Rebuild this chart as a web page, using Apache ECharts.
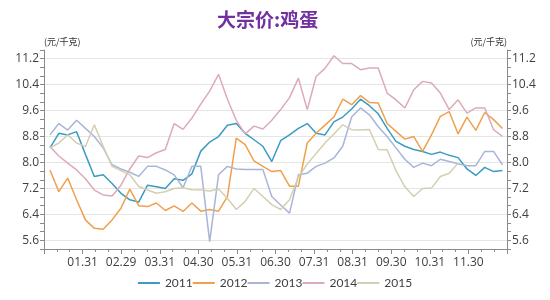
<!DOCTYPE html>
<html><head><meta charset="utf-8">
<script src="https://cdn.jsdelivr.net/npm/echarts@6/dist/echarts.min.js"></script>
<style>html,body{margin:0;padding:0;background:#fff}#c{width:550px;height:300px}</style>
</head><body><div id="c"></div>
<script>
const monthLabels = ['', '01.31', '02.29', '03.31', '04.30', '05.31', '06.30', '07.31', '08.31', '09.30', '10.31', '11.30', ''];
const yearNames = ['2011', '2012', '2013', '2014', '2015'];
const lineColors = ['#3a9cc2', '#f0a04c', '#a9b5d8', '#dcaab9', '#d3cfb3'];
const yTickLabels = [5.6, 6.4, 7.2, 8.0, 8.8, 9.6, 10.4, 11.2];

const s2011 = [8.45, 8.9, 8.85, 8.95, 8.25, 7.57, 7.62, 7.35, 7.05, 6.85,
  6.78, 7.3, 7.25, 7.2, 7.5, 7.45, 7.65, 8.35, 8.63, 8.8,
  9.15, 9.2, 8.9, 8.7, 8.5, 8.03, 8.67, 8.85, 9.05, 9.2,
  8.9, 8.85, 9.25, 9.4, 9.65, 9.95, 9.75, 9.5, 9.05, 8.65,
  8.5, 8.4, 8.34, 8.25, 8.32, 8.22, 8.15, 7.8, 7.6, 7.85,
  7.72, 7.75];
const s2012 = [7.77, 7.1, 7.52, 6.85, 6.23, 5.97, 5.94, 6.23, 6.59, 7.18,
  6.67, 6.64, 6.75, 6.52, 6.66, 6.49, 6.75, 6.5, 6.55, 6.5,
  6.95, 8.75, 8.55, 8.05, 7.88, 7.72, 7.75, 7.27, 7.27, 8.6,
  8.9, 9.15, 9.4, 9.95, 9.78, 10.06, 9.85, 9.83, 9.2, 8.96,
  8.72, 8.8, 8.34, 8.85, 9.42, 9.57, 8.88, 9.4, 8.99, 9.54,
  9.32, 9.05];
const s2013 = [8.85, 9.2, 9.0, 9.3, 9.05, 8.8, 8.45, 7.93, 7.8, 7.7,
  7.57, 7.88, 7.88, 7.77, 7.62, 7.22, 7.88, 7.88, 5.56, 7.62,
  7.88, 7.8, 7.78, 7.78, 7.78, 6.95, 6.69, 6.44, 7.62, 7.67,
  7.88, 7.98, 8.14, 8.5, 9.4, 9.68, 9.47, 9.1, 8.8, 8.45,
  8.1, 7.85, 7.98, 7.9, 8.1, 8.03, 7.96, 7.9, 7.9, 8.34,
  8.34, 7.93];
const s2014 = [8.49, 8.2, 7.98, 7.77, 7.5, 7.15, 7.0, 6.97, 7.3, 7.8,
  8.2, 8.15, 8.3, 8.4, 9.2, 9.02, 9.37, 9.8, 10.2, 10.72,
  9.95, 9.3, 8.88, 9.12, 9.03, 9.3, 9.63, 10.0, 10.6, 9.63,
  10.65, 10.9, 11.29, 11.05, 11.05, 10.86, 10.91, 10.91, 10.14, 9.93,
  9.68, 10.24, 10.5, 10.45, 10.14, 9.63, 9.93, 9.52, 9.68, 9.68,
  9.01, 8.8];
const s2015 = [8.45, 8.6, 8.85, 8.6, 8.49, 9.16, 8.5, 7.88, 7.75, 7.62,
  7.26, 7.15, 7.05, 7.1, 7.2, 7.22, 7.16, 7.15, 7.12, 7.18,
  6.9, 6.55, 6.8, 7.2, 6.95, 6.7, 6.55, 6.85, 7.55, 7.95,
  8.28, 8.6, 8.88, 9.16, 9.01, 9.0, 9.02, 8.4, 8.39, 7.75,
  7.25, 6.95, 7.2, 7.21, 7.57, 7.67, 7.98];

const firstDay = 4.7, daysPerWeek = 7, daysPerMonth = 30.44;
function toPoints(arr) {
  return arr.map((v, i) => [(firstDay + daysPerWeek * i) / daysPerMonth, v]);
}
const allSeries = [s2011, s2012, s2013, s2014, s2015];

const step = 0.8 / 3;
function yFmt(v) {
  const k = v / 0.8;
  if (Math.abs(k - Math.round(k)) < 1e-6) {
    const r = Math.round(k) * 0.8;
    return yTickLabels.some(t => Math.abs(t - r) < 1e-6) ? r.toFixed(1) : '';
  }
  return '';
}
function yAxisCfg(pos) {
  return {
    type: 'value', position: pos,
    min: 20 * step, max: 43 * step, interval: step,
    name: '(元/千克)', nameLocation: 'end', nameGap: 4,
    nameTextStyle: { fontSize: 9, color: '#333', align: pos === 'left' ? 'left' : 'right', fontFamily: 'Noto Sans CJK SC' },
    axisLine: { show: true, lineStyle: { color: '#8a8a8a' } },
    axisTick: { show: true, length: 4, lineStyle: { color: '#8a8a8a' } },
    axisLabel: { formatter: yFmt, fontSize: 12, color: '#404040', margin: 5, fontFamily: 'Open Sans' },
    splitLine: { show: pos === 'left', lineStyle: { color: ['rgba(0,0,0,0)', '#e6e6e6', 'rgba(0,0,0,0)'] } }
  };
}

const chart = echarts.init(document.getElementById('c'));
chart.setOption({
  animation: false,
  backgroundColor: '#fff',
  title: {
    text: '大宗价:鸡蛋', left: 212, top: 5,
    textStyle: { fontSize: 19, fontWeight: 'bold', color: '#7030a0', fontFamily: 'Noto Sans CJK SC' }
  },
  grid: { left: 44, right: 43, top: 50, bottom: 51 },
  legend: {
    data: yearNames, bottom: 6, left: 'center',
    icon: 'rect', itemWidth: 22, itemHeight: 2, itemGap: 0,
    textStyle: { fontSize: 12, color: '#404040', fontFamily: 'Lato' }
  },
  xAxis: {
    type: 'value', min: 0, max: 12, interval: 1,
    axisLine: { show: true, onZero: false, lineStyle: { color: '#8a8a8a' } },
    axisTick: { show: true, length: 5, lineStyle: { color: '#8a8a8a' } },
    minorTick: { show: true, splitNumber: 3, length: 3, lineStyle: { color: '#8a8a8a' } },
    axisLabel: { formatter: v => monthLabels[Math.round(v)] || '', fontSize: 12, color: '#404040', margin: 8, fontFamily: 'Open Sans' },
    splitLine: { show: false }
  },
  yAxis: [yAxisCfg('left'), yAxisCfg('right')],
  series: allSeries.map((arr, k) => ({
    name: yearNames[k], type: 'line', yAxisIndex: 0,
    data: toPoints(arr), showSymbol: false, symbol: 'none',
    lineStyle: { width: 1.5, color: lineColors[k] },
    itemStyle: { color: lineColors[k] }
  }))
});
</script></body></html>
